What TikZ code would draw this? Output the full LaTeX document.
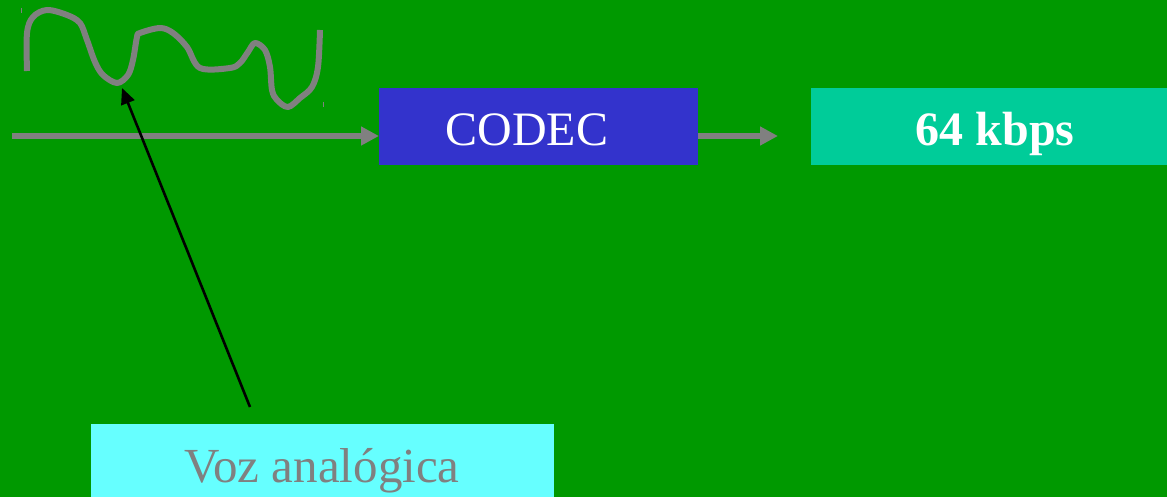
\documentclass[tikz,border=0pt]{standalone}
\usepackage{fontspec}
\setmainfont{Liberation Serif}
\usetikzlibrary{arrows.meta}
\definecolor{bggreen}{HTML}{009900}
\definecolor{codecblue}{HTML}{3333CC}
\definecolor{rateteal}{HTML}{00CC99}
\definecolor{vozcyan}{HTML}{66FFFF}
\definecolor{wavegray}{HTML}{808080}
\tikzset{
  box/.style={inner sep=0pt, outer sep=0pt, anchor=north west},
  bigtext/.style={font=\fontsize{48}{58}\selectfont, inner sep=0pt, anchor=base},
  grayarrow/.style={draw=wavegray, line width=6pt, -{Triangle[length=18pt,width=18pt]}},
  blackarrow/.style={draw=black, line width=2.6pt, -{Triangle[length=16pt,width=14pt]}},
}
\begin{document}
\begin{tikzpicture}[x=1pt,y=-1pt]
\fill[bggreen] (0,0) rectangle (1167,497);
\useasboundingbox (0,0) rectangle (1167,497);
% boxes
\node[box, fill=codecblue, minimum width=319pt, minimum height=77pt] (codec) at (379,88) {};
\node[box, fill=rateteal, minimum width=360pt, minimum height=77pt] (rate) at (811,88) {};
\node[box, fill=vozcyan, minimum width=463pt, minimum height=80pt] (voz) at (91,424) {};
% texts
\node[bigtext, text=white] (codectxt) at (527,146) {CODEC};
\node[bigtext, text=white, font=\fontsize{48}{58}\selectfont\bfseries] (ratetxt) at (995,146) {64 kbps};
\node[bigtext, text=wavegray, font=\fontsize{49}{59}\selectfont] (voztxt) at (322,482) {Voz analógica};
% wave
\draw[wavegray, line width=6pt, line join=round] plot[smooth, tension=0.55] coordinates {
 (27,71) (27,33) (33,17) (47,10) (67,15) (80,23) (87,40) (95,62) (103,75) (117,83)
 (128,75) (133,60) (137,37) (140,33) (160,28) (173,33) (187,47) (200,68) (230,68)
 (240,63) (248,52) (255,43) (265,50) (270,67) (272,90) (277,100) (288,107) (300,98)
 (312,87) (318,67) (320,30)};
\draw[wavegray, line width=0.8pt] (21,8) -- (21,13);
\draw[wavegray, line width=0.8pt] (323,102) -- (323,107);
% connectors
\coordinate (inlet) at (12,136);
\coordinate (outlet) at (778,136);
\coordinate (wavept) at (122,88);
\coordinate (pointer) at (250,407);
\draw[grayarrow] (inlet) -- (inlet -| codec.west);
\draw[grayarrow] (outlet -| codec.east) -- (outlet);
\draw[blackarrow] (pointer) -- (wavept);
\end{tikzpicture}
\end{document}
